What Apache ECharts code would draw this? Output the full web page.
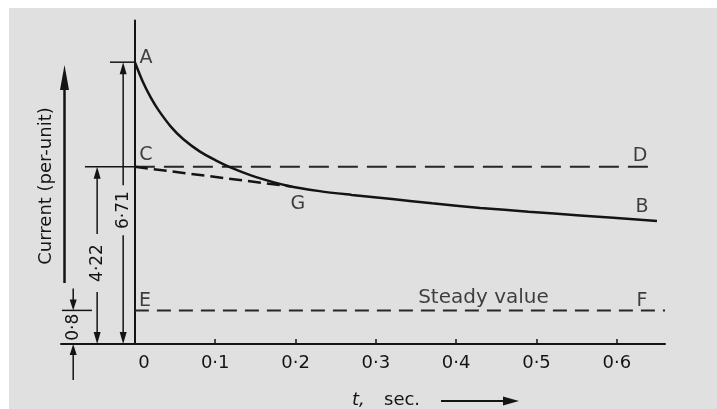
<!DOCTYPE html>
<html>
<head>
<meta charset="utf-8">
<script src="https://cdn.jsdelivr.net/npm/echarts@6.0.0/dist/echarts.min.js"></script>
<style>
  html, body { margin: 0; padding: 0; background: #ffffff; }
  #chart {
    width: 717px; height: 409px;
    background: linear-gradient(#e0e0e0, #e0e0e0) no-repeat 9px 8px / 708px 401px, #ffffff;
  }
</style>
</head>
<body>
<div id="chart"></div>
<script>
// Short-circuit current (per-unit) of an alternator against time after the fault.

// x-axis tick labels (seconds)
const tickValues = [0, 0.1, 0.2, 0.3, 0.4, 0.5, 0.6];

// envelope A - G - B
const envelopeT = [0, 0.01, 0.02, 0.03, 0.045, 0.06, 0.081, 0.10, 0.122, 0.15, 0.19, 0.23, 0.27, 0.32, 0.37, 0.43, 0.49, 0.554, 0.65];
const envelopeI = [6.71, 6.24, 5.86, 5.55, 5.17, 4.88, 4.58, 4.38, 4.18, 3.98, 3.77, 3.64, 3.55, 3.45, 3.35, 3.24, 3.15, 3.06, 2.93];

// transient component extrapolated back to t = 0 (C - G)
const transientT = [0, 0.195];
const transientI = [4.22, 3.75];

// initial transient level (C - D)
const levelT = [0, 0.645];
const levelI = [4.22, 4.22];

// steady value (E - F)
const steadyT = [0, 0.66];
const steadyI = [0.8, 0.8];

// dimensioned values on the left
const dimValues = [6.71, 4.22, 0.8];
const dimLabels = ['6·71', '4·22', '0·8'];

// lettered points
const pointNames = ['A', 'C', 'D', 'B', 'G', 'E', 'F', 'Steady value'];
const pointT = [0, 0, 0.645, 0.65, 0.193, 0, 0.66, 0.434];
const pointI = [6.71, 4.22, 4.22, 2.93, 3.75, 0.8, 0.8, 0.8];

// ---------------------------------------------------------------------------
const ink = '#141414';
const FONT = 'DejaVu Sans';

// label offsets (pixels) and sizes for the lettered points
const pointOffsets = [[11, -4], [11, -12], [-13, -11], [-15, -14], [8, 18], [10, -9], [-23, -9], [0, -13]];
const pointSizes = [19, 19, 19, 19, 19, 19, 19, 20];

// placement of the dimension lines (x in axis units, left of t = 0)
const dimLayout = [
  { x: -0.0146, extFrom: -0.031, extTo: 0, labelAt: 0.475, gap: 50 },
  { x: -0.047, extFrom: -0.0622, extTo: 0, labelAt: 0.457, gap: 58 },
  { x: -0.0768, extFrom: -0.0909, extTo: -0.0535, outside: true, lenTop: 22, lenBot: 36 }
];

const pairs = (xs, ys) => xs.map((x, i) => [x, ys[i]]);

function arrowHead(x, yTip, dir, len, w) {
  // dir = -1 points up, +1 points down
  const yb = yTip - dir * len;
  return {
    type: 'polygon',
    shape: { points: [[x, yTip], [x - w / 2, yb], [x + w / 2, yb]] },
    style: { fill: ink }
  };
}
function seg(x1, y1, x2, y2, w) {
  return { type: 'line', shape: { x1, y1, x2, y2 }, style: { stroke: ink, lineWidth: w || 1.5 } };
}

function renderDim(params, api) {
  const i = params.dataIndex;
  const L = dimLayout[i];
  const v = api.value(1);
  const xv = api.value(0);
  const base = api.coord([xv, 0]);
  const top = api.coord([xv, v]);
  const x = base[0], y0 = base[1], y1 = top[1];
  const ea = api.coord([L.extFrom, v]);
  const eb = api.coord([L.extTo, v]);
  const kids = [seg(ea[0], ea[1], eb[0], eb[1], 1.5)];
  let labelY;
  if (!L.outside) {
    labelY = y0 + (y1 - y0) * L.labelAt;
    kids.push(seg(x, y1 + 4, x, labelY - L.gap / 2));
    kids.push(seg(x, labelY + L.gap / 2, x, y0 - 4));
    kids.push(arrowHead(x, y1, -1, 12, 7));
    kids.push(arrowHead(x, y0, 1, 12, 7));
  } else {
    labelY = (y0 + y1) / 2;
    kids.push(seg(x, y1 - L.lenTop, x, y1 - 4));
    kids.push(seg(x, y0 + L.lenBot, x, y0 + 4));
    kids.push(arrowHead(x, y1, 1, 11, 7));
    kids.push(arrowHead(x, y0, -1, 11, 7));
  }
  kids.push({
    type: 'text', x: x, y: labelY, rotation: Math.PI / 2,
    style: {
      text: dimLabels[i], fontSize: 17, fontFamily: FONT, fill: ink,
      align: 'center', verticalAlign: 'middle'
    }
  });
  return { type: 'group', children: kids };
}

const chart = echarts.init(document.getElementById('chart'), null, { renderer: 'canvas' });

chart.setOption({
  backgroundColor: 'transparent',
  animation: false,
  grid: { left: 61, right: 52, top: 20.6, bottom: 65, containLabel: false, outerBoundsMode: 'none' },
  xAxis: {
    type: 'value',
    min: -0.092,
    max: 0.66,
    axisLine: { show: true, lineStyle: { color: ink, width: 2 } },
    axisTick: {
      show: true, inside: true, length: 5,
      customValues: tickValues.slice(1),
      lineStyle: { color: ink, width: 1.5 }
    },
    axisLabel: {
      show: true,
      customValues: tickValues,
      margin: 10,
      color: ink,
      fontSize: 18,
      fontFamily: FONT,
      formatter: v => (v === 0 ? '{z|0}' : v.toFixed(1).replace('.', '·')),
      rich: { z: { padding: [0, 0, 0, 18], fontSize: 18, fontFamily: FONT, color: ink } }
    },
    splitLine: { show: false }
  },
  yAxis: {
    type: 'value',
    min: 0,
    max: 7.7,
    axisLine: { show: true, onZero: true, lineStyle: { color: ink, width: 2 } },
    axisTick: { show: false },
    axisLabel: { show: false },
    splitLine: { show: false }
  },
  series: [
    {
      name: 'C-D',
      type: 'line',
      data: pairs(levelT, levelI),
      symbol: 'none',
      lineStyle: { color: '#262626', width: 2, type: [20, 9] },
      z: 3
    },
    {
      name: 'E-F',
      type: 'line',
      data: pairs(steadyT, steadyI),
      symbol: 'none',
      lineStyle: { color: '#262626', width: 2, type: [14, 8] },
      z: 3
    },
    {
      name: 'C-G',
      type: 'line',
      data: pairs(transientT, transientI),
      symbol: 'none',
      lineStyle: { color: ink, width: 2.5, type: [13, 6] },
      z: 4
    },
    {
      name: 'A-G-B',
      type: 'line',
      data: pairs(envelopeT, envelopeI),
      symbol: 'none',
      smooth: 0.3,
      lineStyle: { color: ink, width: 2.5 },
      z: 5
    },
    {
      name: 'dimensions',
      type: 'custom',
      clip: false,
      renderItem: renderDim,
      data: dimValues.map((v, i) => [dimLayout[i].x, v]),
      z: 6
    },
    {
      name: 'points',
      type: 'scatter',
      symbolSize: 0,
      clip: false,
      data: pointNames.map((n, i) => ({
        name: n,
        value: [pointT[i], pointI[i]],
        label: { offset: pointOffsets[i], fontSize: pointSizes[i] }
      })),
      label: {
        show: true,
        position: 'inside',
        formatter: p => p.name,
        color: ink,
        fontSize: 19,
        fontFamily: FONT
      },
      z: 7
    }
  ],
  graphic: [
    // y-axis title and its arrow
    {
      type: 'text', x: 46, y: 186, rotation: Math.PI / 2,
      style: { text: 'Current (per-unit)', fontSize: 18, fontFamily: FONT, fill: ink, align: 'center', verticalAlign: 'middle' }
    },
    { type: 'line', shape: { x1: 64.5, y1: 283, x2: 64.5, y2: 86 }, style: { stroke: ink, lineWidth: 2.5 } },
    { type: 'polygon', shape: { points: [[64.5, 65], [60, 90], [69, 90]] }, style: { fill: ink } },
    // x-axis title and its arrow
    {
      type: 'text', x: 352, y: 400,
      style: { text: 't,', fontSize: 18, fontStyle: 'italic', fontFamily: FONT, fill: ink, align: 'left', verticalAlign: 'middle' }
    },
    {
      type: 'text', x: 384, y: 400,
      style: { text: 'sec.', fontSize: 18, fontFamily: FONT, fill: ink, align: 'left', verticalAlign: 'middle' }
    },
    { type: 'line', shape: { x1: 441, y1: 401, x2: 506, y2: 401 }, style: { stroke: ink, lineWidth: 2 } },
    { type: 'polygon', shape: { points: [[519, 401], [503, 396.5], [503, 405.5]] }, style: { fill: ink } }
  ]
});
</script>
</body>
</html>
